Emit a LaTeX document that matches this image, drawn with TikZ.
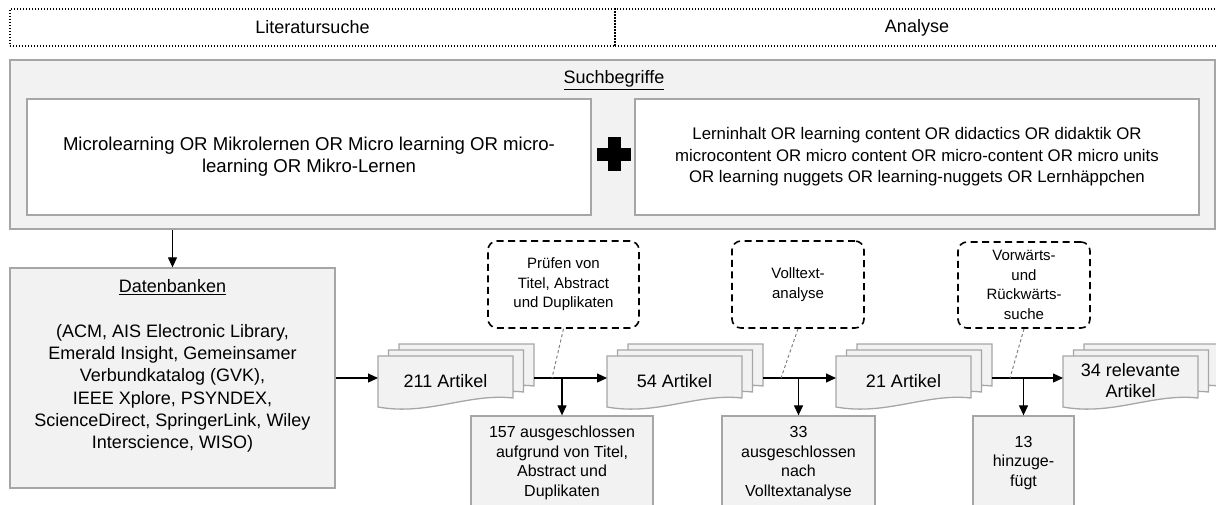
\documentclass[tikz,border=0pt]{standalone}
\usepackage{fontspec}
\setmainfont{Liberation Sans}
\usepackage{tikz}
\usetikzlibrary{arrows.meta}

\definecolor{boxfill}{HTML}{F2F2F2}
\definecolor{boxline}{HTML}{A6A6A6}
\definecolor{hintline}{HTML}{808080}

\begin{document}
\begin{tikzpicture}[x=1pt,y=1pt,
    phase/.style={draw, line width=1.4pt, dash pattern=on 1.4pt off 1.6pt,
      minimum height=37pt, inner sep=0pt, font=\fontsize{18}{22}\selectfont},
    graybox/.style={draw=boxline, fill=boxfill, line width=1.3pt, inner sep=0pt},
    whitebox/.style={draw=boxline, fill=white, line width=1.3pt, inner sep=0pt,
      minimum width=564pt, minimum height=116pt, align=center},
    docsheet/.style={draw=boxline, fill=boxfill, line width=1.3pt},
    doctext/.style={align=center, inner sep=0pt, font=\fontsize{18}{21}\selectfont},
    excluded/.style={graybox, minimum height=94pt, align=center,
      font=\fontsize{16}{19.7}\selectfont},
    note/.style={draw, line width=1.6pt, dash pattern=on 7pt off 4.5pt,
      rounded corners=9pt, inner sep=0pt, align=center,
      font=\fontsize{15}{19.6}\selectfont},
    hint/.style={draw=hintline, line width=1pt, dash pattern=on 3pt off 2.5pt},
    flow/.style={-{Triangle[length=10pt,width=9pt]}, line width=1.2pt}]

  \useasboundingbox (0,0) rectangle (1216,-504);

  % Phases on top
  \node[phase, minimum width=605pt] (lit) at (312.5,-27.5) {Literatursuche};
  \node[phase, minimum width=604pt] (ana) at (917,-27.5) {Analyse};

  % Search terms
  \node[graybox, minimum width=1205pt, minimum height=169pt] (search) at (612.5,-144.5) {};
  \node[font=\fontsize{18}{22}\selectfont] (searchtitle) at (614,-80) {\underline{Suchbegriffe}};
  \node[whitebox, font=\fontsize{18.6}{22}\selectfont] (terms1) at (309,-157)
    {Microlearning OR Mikrolernen OR Micro learning OR micro-\\learning OR Mikro-Lernen};
  \node[whitebox, font=\fontsize{16.8}{21.5}\selectfont] (terms2) at (917,-157)
    {Lerninhalt OR learning content OR didactics OR didaktik OR\\
     microcontent OR micro content OR micro-content OR micro units\\
     OR learning nuggets OR learning-nuggets OR Lernh\"appchen};
  % Draw the plus sign
  \fill (614,-154) +(-6.5,-17) rectangle +(6.5,17);
  \fill (614,-154) +(-17,-6.5) rectangle +(17,6.5);

  % Databases
  \node[graybox, minimum width=325pt, minimum height=220pt] (db) at (172.5,-378) {};
  \node[align=center, inner sep=0pt, font=\fontsize{18}{22.3}\selectfont] (dbtext) at (172.5,-366)
    {\underline{Datenbanken}\\[22.3pt]
     (ACM, AIS Electronic Library,\\
     Emerald Insight, Gemeinsamer\\
     Verbundkatalog (GVK),\\
     IEEE Xplore, PSYNDEX,\\
     ScienceDirect, SpringerLink, Wiley\\
     Interscience, WISO)};
  \draw[flow] (search.south -| db.north) -- (db.north);

  % Draw the stacks of articles
  \foreach \i/\x/\txt in {1/378/211 Artikel, 2/607/54 Artikel, 3/836/21 Artikel,
                          4/1063/{34 relevante\\Artikel}}{
    \foreach \k in {2,1,0}{
      \pgfmathsetmacro{\xa}{\x+10.5*\k}
      \pgfmathsetmacro{\ya}{-356+6*\k}
      \filldraw[docsheet] (\xa,\ya) -- ({\xa+135},\ya) -- ({\xa+135},{\ya-42})
        .. controls ({\xa+90},{\ya-37}) and ({\xa+50},{\ya-60}) .. (\xa,{\ya-51}) -- cycle;
    }
    \node[doctext] (doc\i) at ({\x+67.5},-381) {\txt};
    \coordinate (doc\i-in) at (\x,-378);
    \coordinate (doc\i-out) at ({\x+156},-378);
  }

  % Excluded and added articles
  \node[excluded, minimum width=182pt] (excl1) at (562,-463)
    {157 ausgeschlossen\\aufgrund von Titel,\\Abstract und\\Duplikaten};
  \node[excluded, minimum width=153pt] (excl2) at (798.5,-463)
    {33\\ausgeschlossen\\nach\\Volltextanalyse};
  \node[excluded, minimum width=101pt] (excl3) at (1023.5,-463)
    {13\\hinzuge-\\f\"ugt};

  % Notes on each step
  \node[note, minimum width=151pt, minimum height=87pt] (note1) at (563.5,-284.5)
    {Pr\"ufen von\\Titel, Abstract\\und Duplikaten};
  \node[note, minimum width=132pt, minimum height=87pt] (note2) at (798,-284.5)
    {Volltext-\\analyse};
  \node[note, minimum width=132pt, minimum height=86pt] (note3) at (1024,-285)
    {Vorw\"arts-\\und\\R\"uckw\"arts-\\suche};
  \coordinate (tip1) at (552,-378);
  \coordinate (tip2) at (781,-378);
  \coordinate (tip3) at (1010,-378);

  % Flow
  \draw[flow] (db.east |- doc1-in) -- (doc1-in);
  \foreach \a/\b in {1/2,2/3,3/4}{
    \draw[flow] (doc\a-out) -- (doc\b-in);
    \draw[flow] (excl\a.north |- doc\a-out) -- (excl\a.north);
    \draw[hint] (note\a.south) -- (tip\a);
  }
\end{tikzpicture}
\end{document}
